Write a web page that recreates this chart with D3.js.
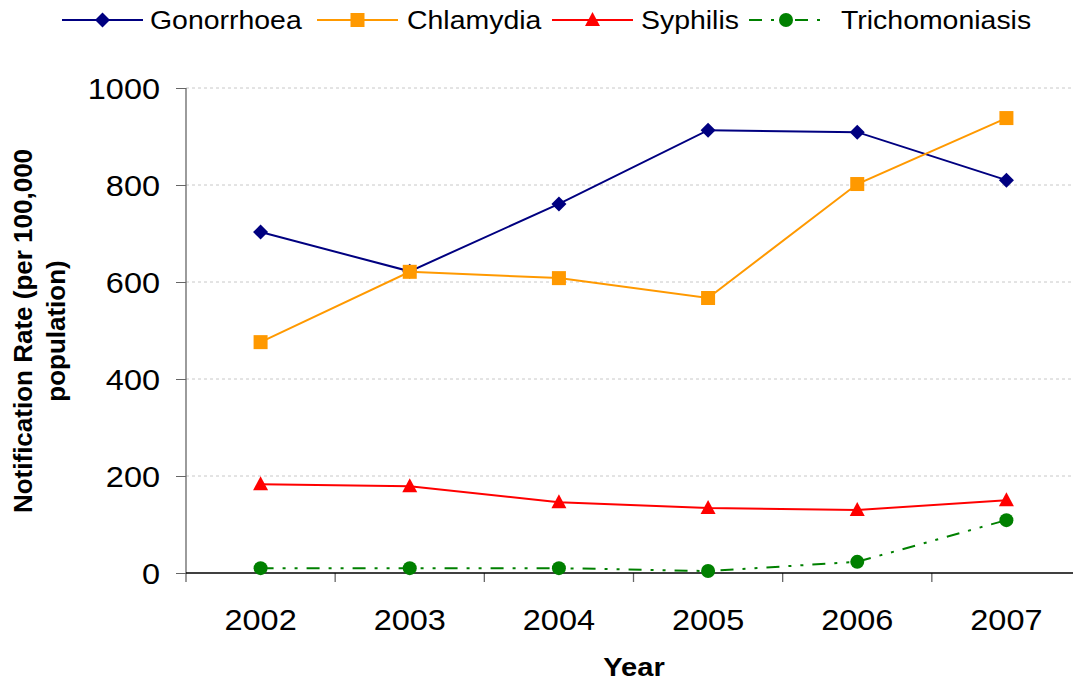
<!DOCTYPE html>
<html><head><meta charset="utf-8">
<script src="https://cdn.jsdelivr.net/npm/d3@7"></script>
<style>
html,body{margin:0;padding:0;background:#fff;}
svg{display:block;font-family:"Liberation Sans",Arial,sans-serif;}
</style></head>
<body><svg id="c" width="1073" height="683"></svg>
<script>
const years = ["2002","2003","2004","2005","2006","2007"];
const gonorrhoea = [703, 622, 761, 913, 909, 810];
const chlamydia = [476, 621, 608, 567, 802, 938];
const syphilis = [183, 179, 146, 134, 130, 150];
const trichomoniasis = [10, 10, 10, 4, 23, 109];
const yTicks = [0, 200, 400, 600, 800, 1000];
const seriesNames = ["Gonorrhoea","Chlamydia","Syphilis","Trichomoniasis"];

const series = [
  {name: seriesNames[0], values: gonorrhoea, color: "#000080", marker: "diamond", dash: null},
  {name: seriesNames[1], values: chlamydia, color: "#FF9900", marker: "square", dash: null},
  {name: seriesNames[2], values: syphilis, color: "#FF0000", marker: "triangle", dash: null},
  {name: seriesNames[3], values: trichomoniasis, color: "#008000", marker: "circle", dash: "13,9,3,9,3,9"}
];

const FONT = "Liberation Sans, Arial, sans-serif";
const SX = 1.12;
const svg = d3.select("#c");
const pLeft = 186, pRight = 1081, pTop = 88, pBottom = 573;
const x = d3.scaleBand().domain(years).range([pLeft, pRight]).padding(0);
const cx = d => x(d) + x.bandwidth() / 2;
const y = d3.scaleLinear().domain([0, 1000]).range([pBottom, pTop]);

// gridlines
svg.append("g").selectAll("line").data(yTicks.filter(t => t > 0)).join("line")
  .attr("x1", pLeft).attr("x2", 1073).attr("y1", d => y(d)).attr("y2", d => y(d))
  .attr("stroke", "#c8c8c8").attr("stroke-width", 1).attr("stroke-dasharray", "3,3");

// y axis
const ya = svg.append("g").attr("transform", `translate(${pLeft},0)`)
  .call(d3.axisLeft(y).tickValues(yTicks).tickFormat(d3.format("d")).tickSize(10).tickSizeOuter(0).tickPadding(0));
ya.select(".domain").remove();
ya.selectAll(".tick line").attr("stroke", "#666");
ya.selectAll(".tick text").attr("font-size", 29).attr("fill", "#000")
  .attr("font-family", FONT)
  .attr("x", -26 / SX).attr("dy", "0.36em").attr("transform", `scale(${SX},1)`);
svg.append("line").attr("x1", pLeft).attr("x2", pLeft).attr("y1", pTop).attr("y2", pBottom + 9)
  .attr("stroke", "#666").attr("stroke-width", 1.3);

// x axis
const xa = svg.append("g").attr("transform", `translate(0,${pBottom})`)
  .call(d3.axisBottom(x).tickSize(0).tickSizeOuter(0).tickPadding(0));
xa.select(".domain").remove();
xa.selectAll(".tick text").attr("font-size", 29).attr("fill", "#000")
  .attr("font-family", FONT)
  .attr("y", 57).attr("dy", 0).attr("transform", `scale(${SX},1)`);
svg.append("g").selectAll("line").data(years.slice(1)).join("line")
  .attr("x1", d => x(d)).attr("x2", d => x(d)).attr("y1", pBottom).attr("y2", pBottom + 9)
  .attr("stroke", "#666").attr("stroke-width", 1.3);
svg.append("line").attr("x1", pLeft).attr("x2", 1073).attr("y1", pBottom).attr("y2", pBottom)
  .attr("stroke", "#000").attr("stroke-width", 1.3);

// markers
function drawMarker(g, type, color, px, py) {
  if (type === "diamond") {
    g.append("path").attr("d", `M${px},${py-7.5}L${px+7.5},${py}L${px},${py+7.5}L${px-7.5},${py}Z`).attr("fill", color);
  } else if (type === "square") {
    g.append("rect").attr("x", px-7).attr("y", py-7).attr("width", 14).attr("height", 14).attr("fill", color);
  } else if (type === "triangle") {
    g.append("path").attr("d", `M${px},${py-8}L${px+7.5},${py+6}L${px-7.5},${py+6}Z`).attr("fill", color);
  } else {
    g.append("circle").attr("cx", px).attr("cy", py).attr("r", 7).attr("fill", color);
  }
}

const line = d3.line().x((d, i) => cx(years[i])).y(d => y(d));
series.forEach(s => {
  const g = svg.append("g");
  g.append("path").datum(s.values).attr("d", line).attr("fill", "none")
    .attr("stroke", s.color).attr("stroke-width", 2).attr("stroke-dasharray", s.dash);
  s.values.forEach((v, i) => drawMarker(g, s.marker, s.color, cx(years[i]), y(v)));
});

// legend
const legendPos = [62, 317, 552, 749];
const legendLen = [81, 81, 81, 74];
const legendText = [150, 407, 641, 841];
series.forEach((s, i) => {
  const g = svg.append("g");
  g.append("line").attr("x1", legendPos[i]).attr("x2", legendPos[i] + legendLen[i])
    .attr("y1", 20).attr("y2", 20).attr("stroke", s.color).attr("stroke-width", 2)
    .attr("stroke-dasharray", s.dash);
  drawMarker(g, s.marker, s.color, legendPos[i] + legendLen[i] / 2, 20);
  g.append("text").attr("x", legendText[i] / SX).attr("y", 29).attr("font-size", 25.4)
    .attr("font-family", FONT)
    .attr("transform", `scale(${SX},1)`).text(s.name);
});

// axis titles
svg.append("text").attr("x", 634 / SX).attr("y", 676).attr("text-anchor", "middle")
  .attr("font-family", FONT)
  .attr("font-size", 26).attr("font-weight", "bold").attr("transform", `scale(${SX},1)`).text("Year");
const yt = svg.append("text").attr("transform", "translate(0,331) rotate(-90)")
  .attr("font-family", FONT)
  .attr("text-anchor", "middle").attr("font-size", 26).attr("font-weight", "bold");
yt.append("tspan").attr("x", 0).attr("y", 32).text("Notification Rate (per 100,000");
yt.append("tspan").attr("x", 0).attr("y", 65).text("population)");
</script></body></html>
